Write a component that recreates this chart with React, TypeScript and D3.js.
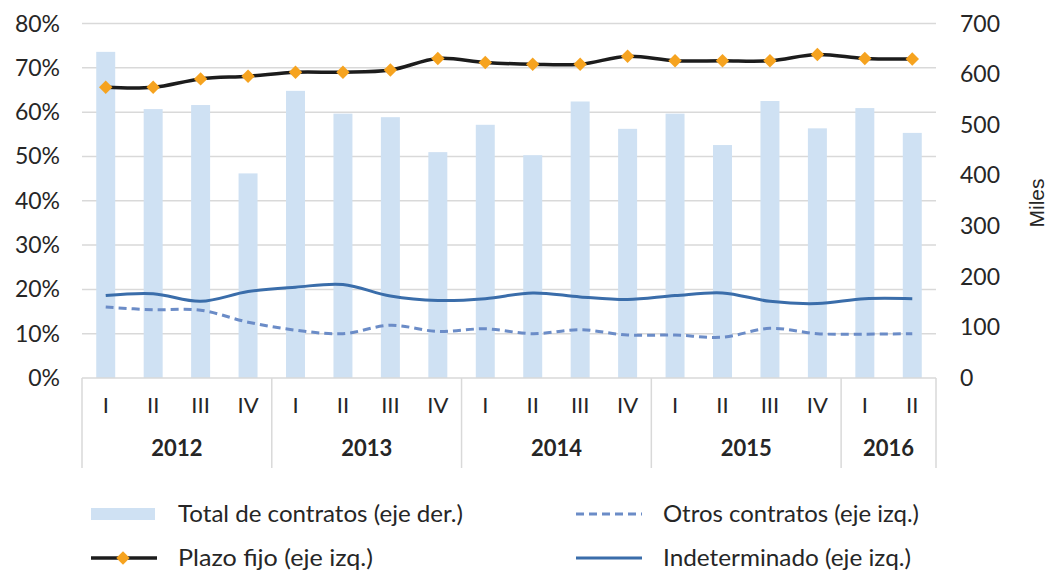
import { useEffect, useRef } from "react";
import * as d3 from "d3";

const years = ["2012", "2013", "2014", "2015", "2016"];
const quartersPerYear = [4, 4, 4, 4, 2];
const quarterLabels = ["I", "II", "III", "IV"];

// total de contratos, miles (eje der.)
const totalContratos = [644, 531, 539, 404, 567, 522, 515, 446, 500, 440, 546, 492, 522, 460, 547, 493, 533, 484];
// porcentajes (eje izq.)
const plazoFijo = [65.6, 65.6, 67.5, 68.1, 69.0, 69.0, 69.5, 72.1, 71.2, 70.8, 70.8, 72.6, 71.6, 71.6, 71.6, 73.0, 72.1, 72.0];
const indeterminado = [18.6, 19.0, 17.3, 19.5, 20.5, 21.1, 18.5, 17.5, 17.9, 19.2, 18.3, 17.7, 18.6, 19.2, 17.3, 16.8, 17.9, 17.9];
const otros = [16.0, 15.4, 15.3, 12.6, 10.8, 10.0, 11.9, 10.5, 11.1, 10.0, 10.9, 9.7, 9.7, 9.2, 11.2, 10.0, 9.9, 10.0];

const leftTicks = [0, 10, 20, 30, 40, 50, 60, 70, 80];
const rightTicks = [0, 100, 200, 300, 400, 500, 600, 700];

const legendItems = [
  { label: "Total de contratos (eje der.)", kind: "bar", len: 285 },
  { label: "Otros contratos (eje izq.)", kind: "dash", len: 256 },
  { label: "Plazo fijo (eje izq.)", kind: "marker", len: 195 },
  { label: "Indeterminado (eje izq.)", kind: "solid", len: 248 },
];

export default function App() {
  const svgRef = useRef<SVGSVGElement>(null);

  useEffect(() => {
    if (!svgRef.current) return;
    const svg = d3.select(svgRef.current);
    svg.selectAll("*").remove();

    const font = "Lato, 'Open Sans', sans-serif";
    const textColor = "#262626";
    const gridColor = "#d9d9d9";
    const barColor = "#cfe1f3";
    const blue = "#3a6daa";
    const blueDash = "#6b8cc7";
    const orange = "#f6a31f";

    const left = 82;
    const right = 936;
    const top = 23.5;
    const bottom = 378;

    // categories: one per quarter
    const cats: { year: string; q: string; key: string }[] = [];
    years.forEach((yr, i) => {
      for (let k = 0; k < quartersPerYear[i]; k++) {
        cats.push({ year: yr, q: quarterLabels[k], key: `${yr}-${quarterLabels[k]}` });
      }
    });

    const x = d3
      .scaleBand()
      .domain(cats.map((c) => c.key))
      .range([left, right])
      .paddingInner(0.6)
      .paddingOuter(0.3);
    const step = x.step();
    const cx = (i: number) => x(cats[i].key)! + x.bandwidth() / 2;

    const yL = d3.scaleLinear().domain([0, 80]).range([bottom, top]);
    const yR = d3.scaleLinear().domain([0, 700]).range([bottom, top]);

    // grid
    svg
      .append("g")
      .selectAll("line")
      .data(leftTicks.slice(1))
      .join("line")
      .attr("x1", left)
      .attr("x2", right)
      .attr("y1", (d) => yL(d))
      .attr("y2", (d) => yL(d))
      .attr("stroke", gridColor)
      .attr("stroke-width", 1.5);

    // bars
    svg
      .append("g")
      .selectAll("rect")
      .data(totalContratos)
      .join("rect")
      .attr("x", (_, i) => x(cats[i].key)!)
      .attr("width", x.bandwidth())
      .attr("y", (d) => yR(d))
      .attr("height", (d) => bottom - yR(d))
      .attr("fill", barColor);

    // category axis
    const axis = svg.append("g");
    axis
      .append("line")
      .attr("x1", left)
      .attr("x2", right)
      .attr("y1", bottom)
      .attr("y2", bottom)
      .attr("stroke", gridColor)
      .attr("stroke-width", 1.5);

    let start = 0;
    const bounds: number[] = [left];
    const yearCenters: { year: string; x: number }[] = [];
    years.forEach((yr, i) => {
      const n = quartersPerYear[i];
      const x0 = left + start * step;
      const x1 = left + (start + n) * step;
      bounds.push(Math.min(x1, right));
      yearCenters.push({ year: yr, x: (x0 + x1) / 2 });
      start += n;
    });
    axis
      .selectAll(".sep")
      .data(bounds)
      .join("line")
      .attr("x1", (d) => d)
      .attr("x2", (d) => d)
      .attr("y1", bottom)
      .attr("y2", 468)
      .attr("stroke", gridColor)
      .attr("stroke-width", 1.5);

    axis
      .selectAll(".q")
      .data(cats)
      .join("text")
      .attr("x", (_, i) => cx(i))
      .attr("y", 405)
      .attr("dy", "0.35em")
      .attr("text-anchor", "middle")
      .attr("font-size", 22)
      .attr("font-family", font)
      .attr("fill", textColor)
      .text((d) => d.q);

    axis
      .selectAll(".yr")
      .data(yearCenters)
      .join("text")
      .attr("x", (d) => d.x)
      .attr("y", 448)
      .attr("dy", "0.35em")
      .attr("text-anchor", "middle")
      .attr("font-size", 22)
      .attr("font-weight", "bold")
      .attr("font-family", font)
      .attr("fill", textColor)
      .text((d) => d.year);

    // value axes
    svg
      .append("g")
      .selectAll("text")
      .data(leftTicks)
      .join("text")
      .attr("x", 60)
      .attr("y", (d) => yL(d))
      .attr("dy", "0.35em")
      .attr("text-anchor", "end")
      .attr("font-size", 23)
      .attr("font-family", font)
      .attr("fill", textColor)
      .text((d) => `${d}%`);

    svg
      .append("g")
      .selectAll("text")
      .data(rightTicks)
      .join("text")
      .attr("x", 960)
      .attr("y", (d) => yR(d))
      .attr("dy", "0.35em")
      .attr("font-size", 23)
      .attr("font-family", font)
      .attr("fill", textColor)
      .text((d) => d);

    svg
      .append("text")
      .attr("transform", "translate(1037,203) rotate(-90)")
      .attr("dy", "0.35em")
      .attr("text-anchor", "middle")
      .attr("font-size", 21)
      .attr("font-family", "'Liberation Sans', Arial, sans-serif")
      .attr("fill", textColor)
      .text("Miles");

    // lines
    const line = d3
      .line<number>()
      .x((_, i) => cx(i))
      .y((d) => yL(d))
      .curve(d3.curveCatmullRom.alpha(0.5));

    svg
      .append("path")
      .datum(otros)
      .attr("fill", "none")
      .attr("stroke", blueDash)
      .attr("stroke-width", 3)
      .attr("stroke-dasharray", "8 5")
      .attr("d", line);

    svg
      .append("path")
      .datum(indeterminado)
      .attr("fill", "none")
      .attr("stroke", blue)
      .attr("stroke-width", 3)
      .attr("d", line);

    svg
      .append("path")
      .datum(plazoFijo)
      .attr("fill", "none")
      .attr("stroke", "#1c1c1c")
      .attr("stroke-width", 3.5)
      .attr("d", line);

    const diamond = d3.symbol().type(d3.symbolSquare).size(90);
    svg
      .append("g")
      .selectAll("path")
      .data(plazoFijo)
      .join("path")
      .attr("transform", (d, i) => `translate(${cx(i)},${yL(d)}) rotate(45)`)
      .attr("d", diamond)
      .attr("fill", orange);

    // legend
    const lg = svg.append("g");
    const pos = [
      [91, 514],
      [576, 514],
      [91, 558],
      [576, 558],
    ];
    legendItems.forEach((item, i) => {
      const [lx, ly] = pos[i];
      const g = lg.append("g").attr("transform", `translate(${lx},${ly})`);
      if (item.kind === "bar") {
        g.append("rect").attr("x", 0).attr("y", -6).attr("width", 64).attr("height", 12).attr("fill", barColor);
      } else if (item.kind === "dash") {
        g.append("line").attr("x1", 0).attr("x2", 66).attr("stroke", blueDash).attr("stroke-width", 3).attr("stroke-dasharray", "8 5");
      } else if (item.kind === "solid") {
        g.append("line").attr("x1", 0).attr("x2", 66).attr("stroke", blue).attr("stroke-width", 3);
      } else {
        g.append("line").attr("x1", 0).attr("x2", 66).attr("stroke", "#1c1c1c").attr("stroke-width", 3.5);
        g.append("path").attr("transform", "translate(32,0) rotate(45)").attr("d", diamond).attr("fill", orange);
      }
      g.append("text")
        .attr("x", 87)
        .attr("y", 0)
        .attr("dy", "0.35em")
        .attr("font-size", 23)
        .attr("font-family", font)
        .attr("fill", textColor)
        .attr("textLength", item.len)
        .attr("lengthAdjust", "spacingAndGlyphs")
        .text(item.label);
    });
  }, []);

  return (
    <div style={{ position: "absolute", left: 0, top: 0, background: "#fff" }}>
      <svg ref={svgRef} width={1050} height={572} viewBox="0 0 1050 572" style={{ display: "block" }} />
    </div>
  );
}
